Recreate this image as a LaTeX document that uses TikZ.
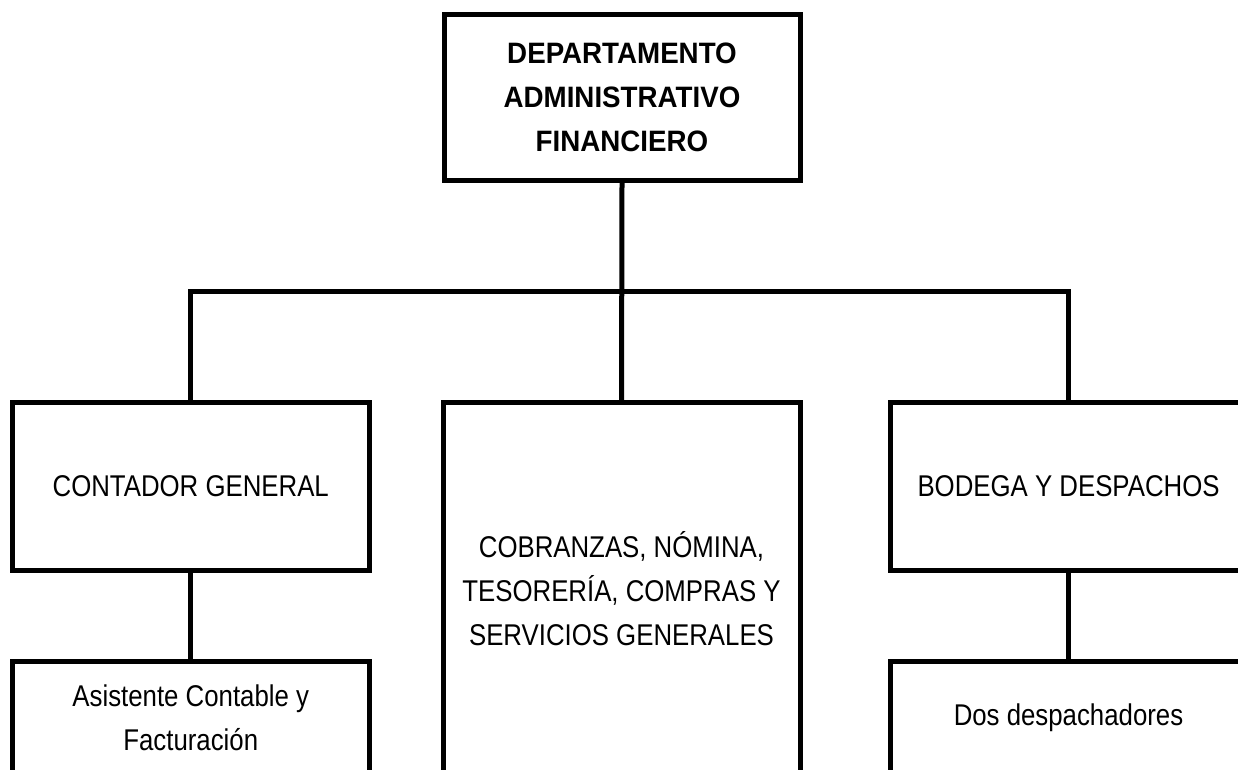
\documentclass[tikz,border=0pt]{standalone}
\usepackage{fontspec}
\setmainfont{Liberation Sans}[FakeStretch=0.86]
\newfontfamily\topfont{Liberation Sans}[FakeStretch=0.94]
\begin{document}
\begin{tikzpicture}[x=1pt,y=-1pt,
  orgbox/.style={draw=black,line width=5pt,rectangle,inner sep=0pt,align=center,
    font=\fontsize{30}{44}\selectfont},
  link/.style={draw=black,line width=5pt}]
\useasboundingbox (0,0) rectangle (1238,770);
\clip (0,0) rectangle (1238,770);
\node[orgbox,minimum width=356pt,minimum height=166pt,font=\topfont\bfseries\fontsize{29.5}{44}\selectfont] (top) at (622,97.5)
  {DEPARTAMENTO\\ADMINISTRATIVO\\FINANCIERO};
\node[orgbox,minimum width=356.5pt,minimum height=168pt] (cont) at (190.75,486.5) {CONTADOR GENERAL};
\node[orgbox,minimum width=357pt,minimum height=372pt] (mid) at (621.5,588.5)
  {COBRANZAS, NÓMINA,\\TESORERÍA, COMPRAS Y\\SERVICIOS GENERALES};
\node[orgbox,minimum width=356pt,minimum height=168pt] (bod) at (1068.5,486.5) {BODEGA Y DESPACHOS};
\node[orgbox,minimum width=356.5pt,minimum height=114pt] (asis) at (190.75,718)
  {Asistente Contable y\\Facturación};
\node[orgbox,minimum width=356pt,minimum height=114pt] (dos) at (1068.5,718) {Dos despachadores};
\coordinate (bus) at (621.5,291);
\draw[link] (top.south) -- (mid.north);
\draw[link] (cont.north) -- (cont.north |- bus) -- (bod.north |- bus) -- (bod.north);
\draw[link] (cont.south) -- (asis.north);
\draw[link] (bod.south) -- (dos.north);
\end{tikzpicture}
\end{document}
